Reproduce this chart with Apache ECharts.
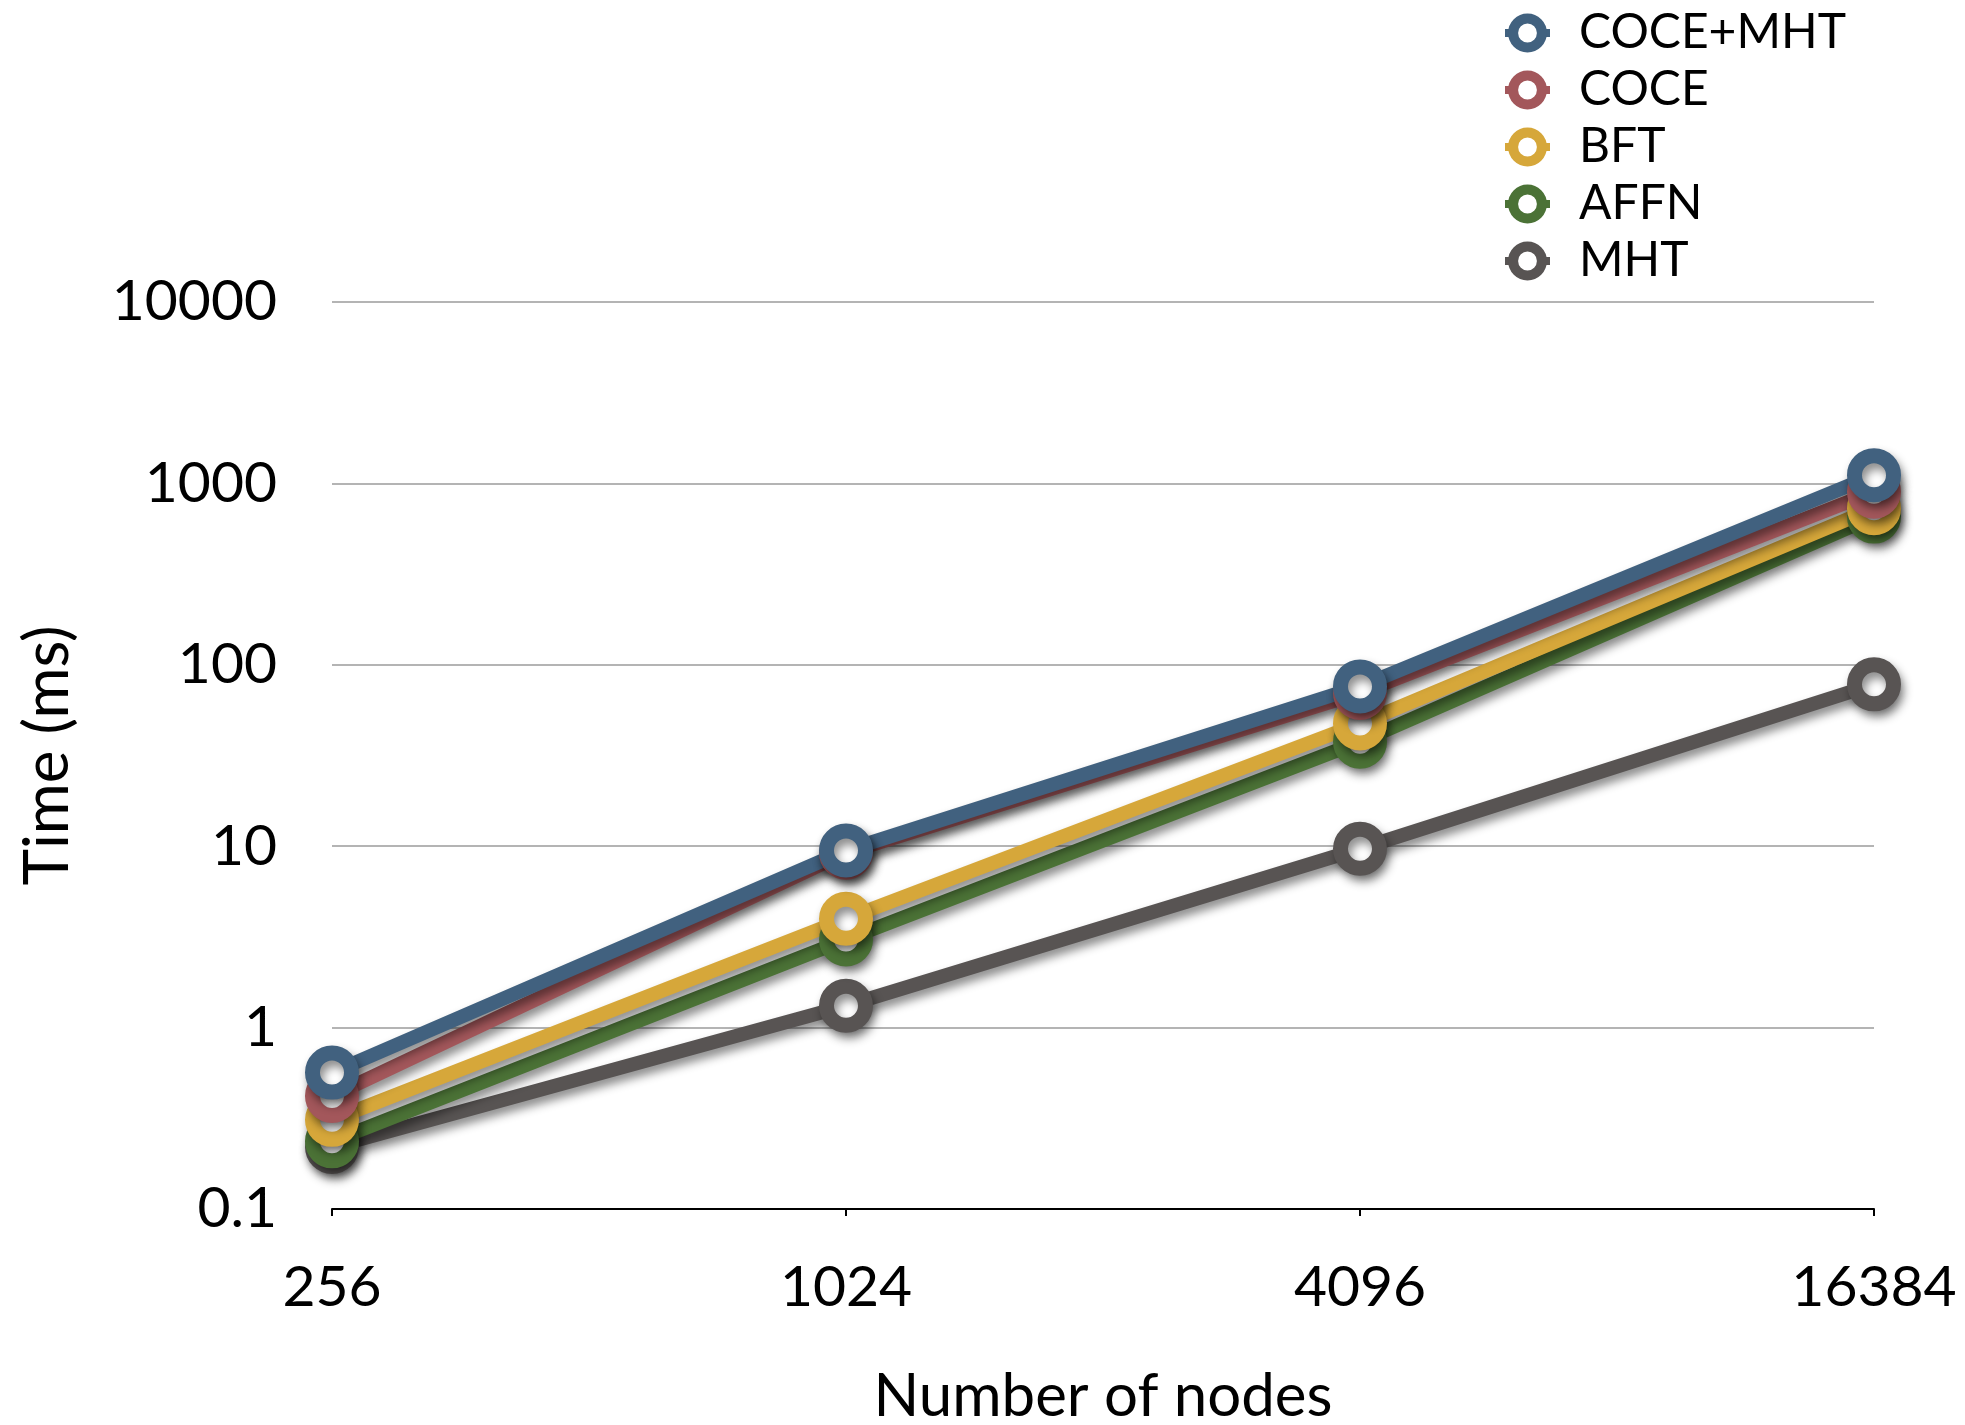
<!DOCTYPE html>
<html>
<head>
<meta charset="utf-8">
<title>Time vs number of nodes</title>
<script src="https://cdn.jsdelivr.net/npm/echarts@6/dist/echarts.min.js"></script>
<style>
  html, body { margin: 0; padding: 0; background: #ffffff; }
  #chart { width: 1965px; height: 1425px; }
</style>
</head>
<body>
<div id="chart"></div>
<script>
// Number of nodes (x categories)
const nodeCounts = ['256', '1024', '4096', '16384'];

// Time in ms per scheme
const coceMht = [0.565, 9.47, 76, 1110];
const coce    = [0.42, 9.2, 70, 900];
const bft     = [0.31, 3.98, 47.5, 730];
const affn    = [0.236, 3.06, 37.7, 656];
const mht     = [0.22, 1.32, 9.68, 78];

// Legend order (top to bottom)
const legendOrder = ['COCE+MHT', 'COCE', 'BFT', 'AFFN', 'MHT'];

const FONT = 'Lato';

function lineSeries(name, values, color) {
  return {
    name: name,
    type: 'line',
    data: values,
    symbol: 'circle',
    symbolSize: 39,
    showSymbol: true,
    lineStyle: {
      width: 14,
      color: color,
      shadowColor: 'rgba(0,0,0,0.45)',
      shadowBlur: 10,
      shadowOffsetX: 3,
      shadowOffsetY: 6
    },
    itemStyle: {
      color: '#ffffff',
      borderColor: color,
      borderWidth: 15,
      shadowColor: 'rgba(0,0,0,0.45)',
      shadowBlur: 10,
      shadowOffsetX: 3,
      shadowOffsetY: 6
    },
    emphasis: { disabled: true },
    animation: false
  };
}

const chart = echarts.init(document.getElementById('chart'), null, { renderer: 'canvas' });

chart.setOption({
  backgroundColor: '#ffffff',
  textStyle: { fontFamily: FONT, color: '#000000' },
  grid: { left: 332, right: 91, top: 302, bottom: 216, containLabel: false, outerBoundsMode: 'none' },
  legend: {
    data: legendOrder,
    orient: 'vertical',
    left: 1496,
    top: 4,
    itemWidth: 45,
    itemHeight: 36,
    itemGap: 9,
    textStyle: { fontFamily: FONT, fontSize: 48, color: '#000000', padding: [0, 0, 0, 24] },
    itemStyle: { borderWidth: 10 },
    lineStyle: { width: 8 }
  },
  xAxis: {
    type: 'category',
    data: nodeCounts,
    boundaryGap: false,
    axisLine: { show: true, lineStyle: { color: '#000000', width: 2 } },
    axisTick: { show: true, length: 7, lineStyle: { color: '#000000', width: 2 } },
    axisLabel: { fontFamily: FONT, fontSize: 57, color: '#000000', margin: 50 },
    splitLine: { show: false },
    name: 'Number of nodes',
    nameLocation: 'middle',
    nameGap: 158,
    nameTextStyle: { fontFamily: FONT, fontSize: 60, color: '#000000' }
  },
  yAxis: {
    type: 'log',
    logBase: 10,
    min: 0.1,
    max: 10000,
    axisLine: { show: false },
    axisTick: { show: false },
    axisLabel: {
      fontFamily: FONT, fontSize: 57, color: '#000000', margin: 55,
      formatter: function (v) { return v < 1 ? String(v) : String(Math.round(v)); }
    },
    splitLine: { show: true, lineStyle: { color: '#b4b4b4', width: 2 } },
    name: 'Time (ms)',
    nameLocation: 'middle',
    nameGap: 253,
    nameRotate: 90,
    nameTextStyle: { fontFamily: FONT, fontSize: 62, color: '#000000' }
  },
  series: [
    lineSeries('MHT', mht, '#585453'),
    lineSeries('AFFN', affn, '#4b7236'),
    lineSeries('BFT', bft, '#d6a73a'),
    lineSeries('COCE', coce, '#a3575b'),
    lineSeries('COCE+MHT', coceMht, '#41617f')
  ]
});
</script>
</body>
</html>
